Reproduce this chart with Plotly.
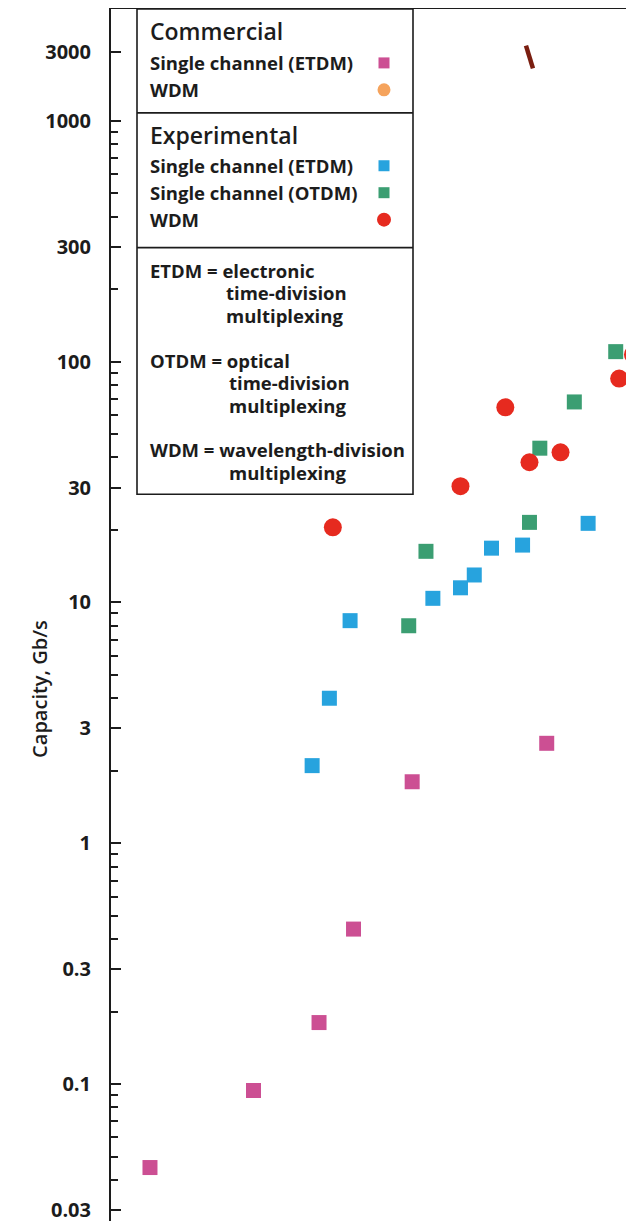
import plotly.graph_objects as go

# ---------------- data (year, capacity in Gb/s) ----------------
com_etdm_year = [1980.0, 1983.0, 1984.9, 1985.9, 1987.6, 1991.5]
com_etdm_cap = [0.045, 0.094, 0.18, 0.44, 1.8, 2.6]

exp_etdm_year = [1984.7, 1985.2, 1985.8, 1988.2, 1989.0, 1989.4, 1989.9, 1990.8, 1992.7]
exp_etdm_cap = [2.1, 4.0, 8.4, 10.4, 11.5, 13.0, 16.8, 17.3, 21.3]

exp_otdm_year = [1987.5, 1988.0, 1991.0, 1991.3, 1992.3, 1993.5]
exp_otdm_cap = [8.0, 16.3, 21.5, 43.7, 68.0, 110.0]

exp_wdm_year = [1985.3, 1989.0, 1990.3, 1991.0, 1991.9, 1993.6, 1994.0]
exp_wdm_cap = [20.5, 30.4, 64.6, 38.2, 42.0, 85.0, 107.0]

# small dark stroke near the top of the original figure
stroke_year = [1991.0]
stroke_cap = [1840.0]

# y-axis ticks as printed (the "3000" label sits where the original shows it)
y_tick_vals = [0.03, 0.1, 0.3, 1, 3, 10, 30, 100, 300, 1000, 1932]
y_tick_text = ["0.03", "0.1", "0.3", "1", "3", "10", "30", "100", "300", "1000", "3000"]
minor_mult = [2, 4, 5, 6, 7, 8, 9]
minor_decades = [0.01, 0.1, 1, 10, 100]

minor_vals = [m * d for d in minor_decades for m in minor_mult if 0.03 <= m * d < 1000]

# ---------------- styles ----------------
PINK = "#cc4f93"
ORANGE = "#f5a35c"
BLUE = "#27a3de"
GREEN = "#3b9e72"
RED = "#e62a1f"
INK = "#1c1c1c"
FONT = "Open Sans"

PAGE_OFF = 8          # default body margin of the html page
PAGE_W, PAGE_H = 634, 1223
L, T = 111, 9         # plot-area origin on the page
PW, PH = PAGE_W - L, PAGE_H - T


def px(x):
    return (x - L) / PW


def py(y):
    return 1 - (y - T) / PH


fig = go.Figure()

sq = dict(symbol="square", size=15)
ci = dict(symbol="circle", size=18)

fig.add_trace(go.Scatter(x=com_etdm_year, y=com_etdm_cap, mode="markers",
                         marker=dict(color=PINK, **sq), name="Commercial ETDM"))
fig.add_trace(go.Scatter(x=exp_etdm_year, y=exp_etdm_cap, mode="markers",
                         marker=dict(color=BLUE, **sq), name="Experimental ETDM"))
fig.add_trace(go.Scatter(x=exp_otdm_year, y=exp_otdm_cap, mode="markers",
                         marker=dict(color=GREEN, **sq), name="Experimental OTDM"))
fig.add_trace(go.Scatter(x=exp_wdm_year, y=exp_wdm_cap, mode="markers",
                         marker=dict(color=RED, **ci), name="Experimental WDM"))
fig.add_trace(go.Scatter(x=stroke_year, y=stroke_cap, mode="markers",
                         marker=dict(symbol="line-ns", size=17, angle=-17,
                                     line=dict(color="#7a1e10", width=4.5)),
                         name="mark"))

fig.update_xaxes(range=[1978.87, 1994.03], showgrid=False, zeroline=False,
                 side="top", showline=True, linecolor=INK, linewidth=2,
                 showticklabels=False, ticks="")
fig.update_yaxes(type="log", range=[-1.5688, 3.4643], showgrid=False, zeroline=False,
                 showline=True, linecolor=INK, linewidth=2,
                 tickmode="array", tickvals=y_tick_vals, ticktext=y_tick_text,
                 ticks="inside", ticklen=10, tickwidth=2, tickcolor=INK,
                 ticklabelstandoff=14, ticklabeloverflow="allow",
                 tickfont=dict(family=FONT, size=20, color=INK, weight="bold"),
                 minor=dict(tickmode="array", tickvals=minor_vals, ticks="inside",
                            ticklen=7, tickwidth=2, tickcolor=INK, showgrid=False))

# ---------------- legend box ----------------
shapes = []
bx0, bx1, by0, by1 = 137, 413, 9, 495
shapes.append(dict(type="rect", xref="paper", yref="paper",
                   x0=px(bx0), x1=px(bx1), y0=py(by1), y1=py(by0),
                   line=dict(color=INK, width=1.6), fillcolor="white", layer="above"))
for yy in (113, 248):
    shapes.append(dict(type="line", xref="paper", yref="paper",
                       x0=px(bx0), x1=px(bx1), y0=py(yy), y1=py(yy),
                       line=dict(color=INK, width=1.6), layer="above"))


def sym(kind, cx, cy, color, s):
    shapes.append(dict(type="rect" if kind == "sq" else "circle",
                       xref="paper", yref="paper",
                       xsizemode="pixel", ysizemode="pixel",
                       xanchor=px(cx), yanchor=py(cy),
                       x0=-s / 2, x1=s / 2, y0=-s / 2, y1=s / 2,
                       fillcolor=color, line=dict(width=0), layer="above"))


sym("sq", 384, 63, PINK, 11)
sym("ci", 384, 90, ORANGE, 13)
sym("sq", 384, 166, BLUE, 11)
sym("sq", 384, 193, GREEN, 11)
sym("ci", 384, 220, RED, 14)

ann = []


def txt(x, y, s, size=18.5, weight="bold"):
    ann.append(dict(xref="paper", yref="paper", x=px(x), y=py(y), text=s,
                    showarrow=False, xanchor="left", yanchor="middle",
                    xshift=-2,
                    font=dict(family=FONT, size=size, color=INK, weight=weight)))


txt(150, 31, "Commercial", size=23, weight=600)
txt(150, 63, "Single channel (ETDM)")
txt(150, 90, "WDM")
txt(150, 135, "Experimental", size=23, weight=600)
txt(150, 166, "Single channel (ETDM)")
txt(150, 193, "Single channel (OTDM)")
txt(150, 220, "WDM")

txt(150, 271, "ETDM = electronic")
txt(226, 293, "time-division")
txt(226, 316, "multiplexing")
txt(150, 361, "OTDM = optical")
txt(229, 383, "time-division")
txt(229, 406, "multiplexing")
txt(150, 450, "WDM = wavelength-division")
txt(229, 473, "multiplexing")

# y-axis title
ann.append(dict(xref="paper", yref="paper", x=px(40), y=py(690),
                text="Capacity, Gb/s", textangle=-90, showarrow=False,
                xanchor="center", yanchor="middle",
                font=dict(family=FONT, size=20, color=INK, weight=600)))

fig.update_layout(width=PAGE_W - PAGE_OFF, height=PAGE_H - PAGE_OFF,
                  margin=dict(l=L - PAGE_OFF, r=0, t=T - PAGE_OFF, b=0),
                  paper_bgcolor="white", plot_bgcolor="white",
                  showlegend=False, shapes=shapes, annotations=ann)

fig.write_html("out.html")
